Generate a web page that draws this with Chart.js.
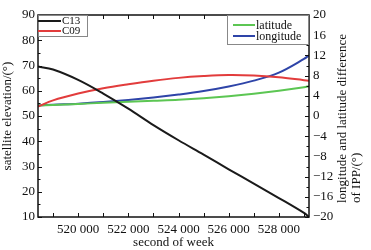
<!DOCTYPE html>
<html>
<head>
<meta charset="utf-8">
<script src="https://cdn.jsdelivr.net/npm/chart.js@4.4.0/dist/chart.umd.min.js"></script>
<style>
  html, body { margin: 0; padding: 0; background: #fff; }
  #wrap { width: 371px; height: 250px; }
</style>
</head>
<body>
<div id="wrap"><canvas id="chart1" width="371" height="250"></canvas></div>
<script>
const seconds = [518400, 519000, 520000, 521000, 522000, 523000, 524000, 525000, 526000, 527000, 528000, 529000, 529200];
// satellite elevation (left axis)
const c13 = [69.6, 68.4, 64.3, 58.9, 52.9, 46.4, 40.4, 34.7, 28.9, 23.2, 17.5, 11.6, 10.0];
const c09 = [53.7, 56.2, 58.9, 61.0, 62.6, 64.0, 65.1, 65.8, 66.2, 66.0, 65.3, 64.2, 64.0];
// longitude / latitude difference of IPP (right axis)
const latitude = [2.1, 2.2, 2.4, 2.6, 2.8, 3.0, 3.2, 3.5, 3.9, 4.4, 5.0, 5.7, 5.9];
const longitude = [2.1, 2.25, 2.45, 2.75, 3.15, 3.65, 4.25, 4.95, 5.85, 7.0, 8.6, 11.3, 12.0];

const FONT = '"Liberation Serif", "DejaVu Serif", serif';
const pts = (ys) => seconds.map((s, i) => ({ x: s, y: ys[i] }));
const fmtThousands = (v) => {
    const s = String(Math.round(v));
    return s.slice(0, s.length - 3) + ' ' + s.slice(-3);
};

// inward ticks, frame, split legends and the right-hand title
const decorations = {
    id: 'decorations',
    afterDraw: (chart) => {
        const { ctx, chartArea: a, scales } = chart;
        ctx.save();
        ctx.strokeStyle = '#111';
        ctx.lineWidth = 1;

        const x = scales.x;
        for (let v = 519000; v <= 529000; v += 1000) {
            const px = Math.round(x.getPixelForValue(v)) + 0.5;
            ctx.beginPath();
            ctx.moveTo(px, a.bottom); ctx.lineTo(px, a.bottom - 4);
            ctx.moveTo(px, a.top); ctx.lineTo(px, a.top + 4);
            ctx.stroke();
        }
        const y = scales.y;
        for (let v = 10; v <= 90; v += 5) {
            const py = Math.round(y.getPixelForValue(v)) + 0.5;
            const len = v % 10 === 0 ? 4 : 2.5;
            ctx.beginPath();
            ctx.moveTo(a.left, py); ctx.lineTo(a.left + len, py);
            ctx.stroke();
        }
        const y1 = scales.y1;
        for (let v = -20; v <= 20; v += 2) {
            const py = Math.round(y1.getPixelForValue(v)) + 0.5;
            const len = v % 4 === 0 ? 4 : 2.5;
            ctx.beginPath();
            ctx.moveTo(a.right, py); ctx.lineTo(a.right - len, py);
            ctx.stroke();
        }

        // frame
        ctx.lineWidth = 1.5;
        ctx.strokeRect(a.left, a.top, a.right - a.left, a.bottom - a.top);

        // legends
        const drawLegend = (items, bx, by, bw, bh, lineX0, lineX1, textX, rowY, size) => {
            ctx.fillStyle = '#fff';
            ctx.fillRect(bx, by, bw, bh);
            ctx.strokeStyle = '#888';
            ctx.lineWidth = 1;
            ctx.strokeRect(bx + 0.5, by + 0.5, bw, bh);
            ctx.font = size + 'px ' + FONT;
            ctx.textAlign = 'left';
            ctx.textBaseline = 'middle';
            items.forEach((ds, i) => {
                const ly = rowY[i];
                ctx.strokeStyle = ds.borderColor;
                ctx.lineWidth = 2;
                ctx.beginPath();
                ctx.moveTo(lineX0, ly); ctx.lineTo(lineX1, ly);
                ctx.stroke();
                ctx.fillStyle = '#111';
                ctx.fillText(ds.label, textX, ly + 0.5);
            });
        };
        const ds = chart.data.datasets;
        drawLegend([ds[0], ds[1]], a.left, a.top, 49, 21, a.left, a.left + 23, a.left + 24, [a.top + 6, a.top + 16], 11);
        drawLegend([ds[2], ds[3]], a.right - 82, a.top, 81, 29, a.right - 76, a.right - 54, a.right - 53, [a.top + 10, a.top + 21], 12);

        // right axis title, reading bottom to top
        ctx.fillStyle = '#111';
        ctx.font = '13px ' + FONT;
        ctx.textAlign = 'left';
        ctx.textBaseline = 'middle';
        ctx.save();
        ctx.translate(343, 203);
        ctx.rotate(-Math.PI / 2);
        ctx.fillText('longitude and latitude difference', 0, 0);
        ctx.fillText('of IPP/(°)', 0, 14);
        ctx.restore();

        ctx.restore();
    }
};

new Chart(document.getElementById('chart1').getContext('2d'), {
    type: 'line',
    data: {
        datasets: [
            { label: 'C13', data: pts(c13), borderColor: '#1a1a1a', yAxisID: 'y' },
            { label: 'C09', data: pts(c09), borderColor: '#e23c3c', yAxisID: 'y' },
            { label: 'latitude', data: pts(latitude), borderColor: '#5cc653', yAxisID: 'y1' },
            { label: 'longitude', data: pts(longitude), borderColor: '#2e44a8', yAxisID: 'y1' },
        ]
    },
    options: {
        responsive: false,
        animation: false,
        devicePixelRatio: 1,
        layout: { padding: { top: 15, left: 0, right: 0, bottom: 0 } },
        elements: {
            line: { borderWidth: 2, tension: 0.35 },
            point: { radius: 0 }
        },
        plugins: {
            legend: { display: false },
            tooltip: { enabled: false }
        },
        scales: {
            x: {
                type: 'linear',
                min: 518400,
                max: 529200,
                afterBuildTicks: (s) => {
                    s.ticks = [520000, 522000, 524000, 526000, 528000].map(v => ({ value: v }));
                },
                afterFit: (s) => { s.height = 33; },
                grid: { display: false, drawTicks: false },
                border: { display: false },
                ticks: {
                    padding: 5,
                    color: '#111',
                    font: { family: FONT, size: 13 },
                    maxRotation: 0,
                    autoSkip: false,
                    callback: (v) => fmtThousands(v)
                },
                title: {
                    display: true,
                    text: 'second of week',
                    color: '#111',
                    font: { family: FONT, size: 13 },
                    padding: { top: 0, bottom: 0 }
                }
            },
            y: {
                position: 'left',
                min: 10,
                max: 90,
                afterFit: (s) => { s.width = 38; },
                grid: { display: false, drawTicks: false },
                border: { display: false },
                ticks: {
                    stepSize: 10,
                    padding: 3,
                    color: '#111',
                    font: { family: FONT, size: 13 }
                },
                title: {
                    display: true,
                    text: 'satellite elevation/(°)',
                    color: '#111',
                    font: { family: FONT, size: 13 },
                    padding: { top: 0, bottom: 0 }
                }
            },
            y1: {
                position: 'right',
                min: -20,
                max: 20,
                afterFit: (s) => { s.width = 62; },
                grid: { display: false, drawTicks: false },
                border: { display: false },
                ticks: {
                    stepSize: 4,
                    padding: 4,
                    color: '#111',
                    font: { family: FONT, size: 13 },
                    callback: (v) => (v < 0 ? '\u2212' + Math.abs(v) : String(v))
                }
            }
        }
    },
    plugins: [decorations]
});
</script>
</body>
</html>
